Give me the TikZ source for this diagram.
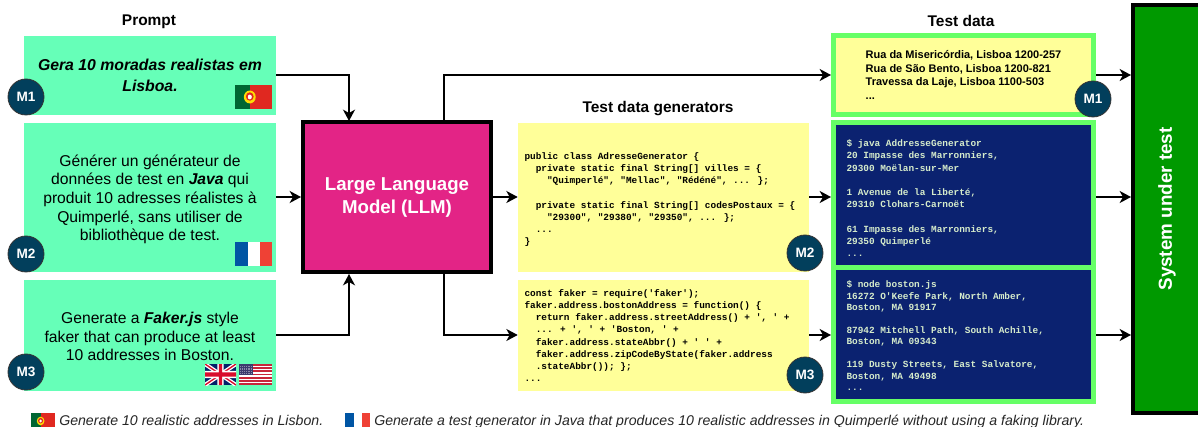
\documentclass[tikz,border=0pt]{standalone}
\usepackage{fontspec}
\setmainfont{Liberation Sans}
\newfontfamily\codefont{Liberation Mono}[BoldFont={Liberation Mono Bold}]
\usetikzlibrary{arrows.meta,calc}
\definecolor{promptc}{HTML}{66FFB8}
\definecolor{yellowc}{HTML}{FFFF99}
\definecolor{limec}{HTML}{66FF66}
\definecolor{navyc}{HTML}{0B2270}
\definecolor{llmc}{HTML}{E32486}
\definecolor{sutc}{HTML}{009900}
\definecolor{badgec}{HTML}{023F5C}
\definecolor{codetxt}{HTML}{D5EBCB}
\definecolor{ptg}{HTML}{006633}
\definecolor{ptr}{HTML}{E02820}
\definecolor{frb}{HTML}{0055A4}
\definecolor{frr}{HTML}{EF4135}
\definecolor{ukb}{HTML}{012169}
\definecolor{ukr}{HTML}{D80C2C}
\definecolor{usr}{HTML}{C8263A}
\definecolor{usb}{HTML}{3C3B6E}
\newcommand{\push}[1]{\rule{0pt}{#1pt}}
\tikzset{
  promptbox/.style={fill=promptc,align=flush center,inner sep=0pt,font=\fontsize{11.75}{14}\selectfont},
  genbox/.style={fill=yellowc,inner xsep=4.9pt,inner ysep=0pt,text width=208.5pt,align=flush left,font={\codefont\bfseries\fontsize{7.05}{9.1}\selectfont}},
  databox/.style={draw=limec,line width=3.75pt,inner sep=0pt},
  navybox/.style={databox,fill=navyc,text=codetxt,text width=175.5pt,align=flush left,font={\codefont\bfseries\fontsize{7.05}{#1}\selectfont}},
  llmbox/.style={draw=black,line width=3pt,fill=llmc,text=white,align=flush center,inner sep=0pt,font=\bfseries\fontsize{14}{17.2}\selectfont},
  title/.style={inner sep=0pt,font=\bfseries\fontsize{11.6}{14}\selectfont},
  badge/.style={circle,draw=black!80,line width=.6pt,fill=badgec,text=white,minimum size=27pt,inner sep=0pt,font=\bfseries\fontsize{10.2}{12}\selectfont},
  legend/.style={inner sep=0pt,anchor=base west,text=black!85,font=\itshape\fontsize{10.6}{12}\selectfont},
  conn/.style={draw=black,line width=1.5pt,-{Stealth[length=8.5pt,width=9pt,inset=2.5pt]}},
}
\newcommand{\pxnode}[7]{%
  \pgfmathsetlengthmacro{\pxw}{(#4-#2)*.75pt}%
  \pgfmathsetlengthmacro{\pxh}{(#5-#3)*.75pt}%
  \node[#6,minimum width=\pxw,minimum height=\pxh] (#1) at ({(#2+#4)/2},{(#3+#5)/2}) {#7};}
\newcommand{\ptflag}[4]{%
  \pgfmathsetmacro{\fa}{#3*.75}\pgfmathsetmacro{\fb}{#4*.75}%
  \begin{scope}[shift={(#1,#2)},x=\fa pt,y=-\fb pt]
    \fill[ptg] (0,0) rectangle (.4,1);
    \fill[ptr] (.4,0) rectangle (1,1);
    \fill[yellow!80!orange] (.4,.5) ellipse (.16 and .27);
    \fill[ptr] (.4,.48) ellipse (.105 and .175);
    \fill[white] (.4,.5) ellipse (.055 and .1);
  \end{scope}}
\newcommand{\frflag}[4]{%
  \pgfmathsetmacro{\fa}{#3*.75}\pgfmathsetmacro{\fb}{#4*.75}%
  \begin{scope}[shift={(#1,#2)},x=\fa pt,y=-\fb pt]
    \fill[frb] (0,0) rectangle (.34,1);
    \fill[white] (.34,0) rectangle (.67,1);
    \fill[frr] (.67,0) rectangle (1,1);
  \end{scope}}
\newcommand{\ukflag}[4]{%
  \pgfmathsetmacro{\fa}{#3*.75}\pgfmathsetmacro{\fb}{#4*.75}%
  \begin{scope}[shift={(#1,#2)},x=\fa pt,y=-\fb pt]
    \clip (0,0) rectangle (1,1);
    \fill[ukb] (0,0) rectangle (1,1);
    \draw[white,line width=3pt] (0,0) -- (1,1) (0,1) -- (1,0);
    \draw[ukr,line width=1pt] (0,0) -- (1,1) (0,1) -- (1,0);
    \fill[white] (.4,0) rectangle (.6,1) (0,.33) rectangle (1,.67);
    \fill[ukr] (.45,0) rectangle (.55,1) (0,.4) rectangle (1,.6);
  \end{scope}}
\newcommand{\usflag}[4]{%
  \pgfmathsetmacro{\fa}{#3*.75}\pgfmathsetmacro{\fb}{#4*.75}%
  \begin{scope}[shift={(#1,#2)},x=\fa pt,y=-\fb pt]
    \fill[white] (0,0) rectangle (1,1);
    \foreach \s in {0,2,...,12} {\fill[usr] (0,\s/13) rectangle (1,{(\s+1)/13});}
    \fill[usb] (0,0) rectangle (.43,.54);
    \foreach \r in {1,...,5} {\foreach \c in {1,...,7} {\fill[usb!60!white] ({\c*.054-.012},{\r*.09-.012}) rectangle ({\c*.054+.012},{\r*.09+.012});}}
  \end{scope}}
\begin{document}
\begin{tikzpicture}[x=.75pt,y=-.75pt]
\path[use as bounding box,fill=white] (0,0) rectangle (1198,427);

% titles
\node[title] (tprompt) at (149,21.5) {Prompt};
\node[title] (tgen) at (658,108.5) {Test data generators};
\node[title] (tdata) at (961,20.5) {Test data};

% prompts
\pxnode{p1}{24}{36}{276}{115}{promptbox,font=\bfseries\itshape\fontsize{11.85}{15.7}\selectfont}{Gera 10 moradas realistas em\\Lisboa.}
\pxnode{p2}{24}{123}{276}{272}{promptbox}{\push{11.5}Générer un générateur de\\données de test en \textbf{\textit{Java}} qui\\produit 10 adresses réalistes à\\Quimperlé, sans utiliser de\\bibliothèque de test.}
\pxnode{p3}{24}{280}{276}{391}{promptbox}{\push{10}Generate a \textbf{\textit{Faker.js}} style\\faker that can produce at least\\10 addresses in Boston.}

% LLM
\pxnode{llm}{303}{122.5}{491}{272}{llmbox}{Large Language\\Model (LLM)}

% generators
\pxnode{g2}{518}{123}{809}{272}{genbox}{\push{8.5}public class AdresseGenerator \{\\
~~private static final String[] villes = \{\\
~~~~"Quimperlé", "Mellac", "Rédéné", ... \};\\
~\\
~~private static final String[] codesPostaux = \{\\
~~~~"29300", "29380", "29350", ... \};\\
~~...\\
\}}
\pxnode{g3}{518}{280}{809}{391}{genbox}{const faker = require('faker');\\
faker.address.bostonAddress = function() \{\\
~~return faker.address.streetAddress() + ', ' +\\
~~... + ', ' + 'Boston, ' +\\
~~faker.address.stateAbbr() + ' ' +\\
~~faker.address.zipCodeByState(faker.address\\
~~.stateAbbr()); \};\\
...}

% test data
\pxnode{t1}{833.5}{35.5}{1093.5}{114.5}{databox,fill=yellowc,align=flush left,font=\bfseries\fontsize{8.25}{10.3}\selectfont}{Rua da Misericórdia, Lisboa 1200-257\\Rua de São Bento, Lisboa 1200-821\\Travessa da Laje, Lisboa 1100-503\\...}
\pxnode{t2}{833.5}{122.5}{1093.5}{267.5}{navybox=9.15}{\push{10}\$ java AddresseGenerator\\
20 Impasse des Marronniers,\\
29300 Moëlan-sur-Mer\\
~\\
1 Avenue de la Liberté,\\
29310 Clohars-Carnoët\\
~\\
61 Impasse des Marronniers,\\
29350 Quimperlé\\
...}
\pxnode{t3}{833.5}{267.5}{1093.5}{401.5}{navybox=8.55}{\push{7}\$ node boston.js\\
16272 O'Keefe Park, North Amber,\\
Boston, MA 91917\\
~\\
87942 Mitchell Path, South Achille,\\
Boston, MA 09343\\
~\\
119 Dusty Streets, East Salvatore,\\
Boston, MA 49498\\
...}

% system under test
\pxnode{sut}{1133}{5}{1198}{413}{fill=sutc,inner sep=0pt}{}
\draw[black,line width=3pt] (sut.north east) -- (sut.north west) -- (sut.south west) -- (sut.south east);
\node[rotate=90,text=white,inner sep=0pt,font=\bfseries\fontsize{14.1}{16}\selectfont] (sutlabel) at (1167,209) {System under test};

% named connector ends
\coordinate (inA) at (349,121);
\coordinate (inC) at (349,274);
\coordinate (outA) at (444,121);
\coordinate (outC) at (444,274);
\coordinate (s1) at (1131,75);
\coordinate (s2) at (1131,197);
\coordinate (s3) at (1131,335);

% connectors
\draw[conn] (p1.east |- 0,75) -| (inA);
\draw[conn] (p2.east |- 0,197) -- (llm.west |- 0,197);
\draw[conn] (p3.east |- 0,335) -| (inC);
\draw[conn] (outA) |- (t1.west |- 0,75);
\draw[conn] (llm.east |- 0,197) -- (g2.west |- 0,197);
\draw[conn] (outC) |- (g3.west |- 0,335);
\draw[conn] (g2.east |- 0,197) -- (t2.west |- 0,197);
\draw[conn] (g3.east |- 0,335) -- (t3.west |- 0,335);
\draw[conn] (t1.east |- s1) -- (s1);
\draw[conn] (t2.east |- s2) -- (s2);
\draw[conn] (t3.east |- s3) -- (s3);

% flags
\ptflag{235}{85}{37}{24}
\frflag{235}{242}{37}{24}
\ukflag{205}{364}{31}{21}
\usflag{239}{364}{33}{21}

% badges
\node[badge] (b1) at (26,97) {M1};
\node[badge] (b2) at (26,254) {M2};
\node[badge] (b3) at (26,372) {M3};
\node[badge] (b4) at (805,253) {M2};
\node[badge] (b5) at (805,375) {M3};
\node[badge] (b6) at (1093,99) {M1};

% legend
\ptflag{31}{413}{24}{16}
\node[legend] (l1) at (59,425) {Generate 10 realistic addresses in Lisbon.};
\frflag{345}{413}{25}{16}
\node[legend] (l2) at (374,425) {Generate a test generator in Java that produces 10 realistic addresses in Quimperlé without using a faking library.};
\end{tikzpicture}
\end{document}
